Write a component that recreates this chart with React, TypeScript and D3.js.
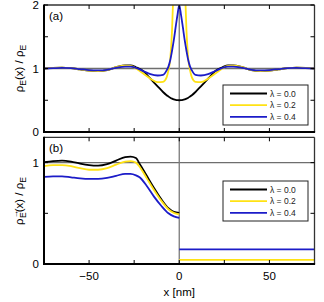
import * as React from "react";
import * as d3 from "d3";

// panel (a): rho_E(x) / rho_E
const xA = [-75, -70, -65, -60, -55, -50, -45, -40, -35, -30, -27, -24, -20, -16, -12, -9, -7, -6, -5, -4, -3, -2, -1, 0,
  1, 2, 3, 4, 5, 6, 7, 9, 12, 16, 20, 24, 27, 30, 35, 40, 45, 50, 55, 60, 65, 70, 75];
const blackA = [1.0, 1.01, 1.015, 1.005, 0.985, 0.965, 0.96, 0.975, 1.02, 1.05, 1.05, 1.02, 0.96, 0.84, 0.72, 0.63, 0.58, 0.56, 0.54, 0.525, 0.513, 0.505, 0.501, 0.5,
  0.501, 0.505, 0.513, 0.525, 0.54, 0.56, 0.58, 0.63, 0.72, 0.84, 0.96, 1.02, 1.05, 1.05, 1.02, 0.975, 0.96, 0.965, 0.985, 1.005, 1.015, 1.01, 1.0];
const yellowA = [1.0, 1.01, 1.015, 1.005, 0.985, 0.965, 0.96, 0.975, 1.02, 1.045, 1.04, 1.0, 0.92, 0.84, 0.785, 0.79, 0.86, 0.97, 1.15, 1.6, 2.4, 2.8, 3.0, 3.0,
  3.0, 2.8, 2.4, 1.6, 1.15, 0.97, 0.86, 0.79, 0.785, 0.84, 0.92, 1.0, 1.04, 1.045, 1.02, 0.975, 0.96, 0.965, 0.985, 1.005, 1.015, 1.01, 1.0];
const blueA = [1.0, 1.005, 1.01, 1.005, 0.99, 0.975, 0.97, 0.98, 1.01, 1.03, 1.03, 1.01, 0.96, 0.91, 0.89, 0.9, 0.97, 1.03, 1.13, 1.28, 1.45, 1.65, 1.84, 2.0,
  1.84, 1.65, 1.45, 1.28, 1.13, 1.03, 0.97, 0.9, 0.89, 0.91, 0.96, 1.01, 1.03, 1.03, 1.01, 0.98, 0.97, 0.975, 0.99, 1.005, 1.01, 1.005, 1.0];

// panel (b): left half (x <= 0) and right half constants
const xB = [-75, -70, -65, -60, -55, -50, -45, -40, -35, -30, -27, -24, -22, -18, -14, -10, -6, -3, 0];
const blackB = [1.005, 1.015, 1.02, 1.01, 0.99, 0.975, 0.97, 0.985, 1.02, 1.055, 1.06, 1.045, 0.99, 0.87, 0.75, 0.64, 0.55, 0.515, 0.505];
const yellowB = [0.965, 0.975, 0.975, 0.965, 0.945, 0.93, 0.93, 0.945, 0.98, 1.01, 1.015, 1.0, 0.96, 0.845, 0.73, 0.625, 0.54, 0.505, 0.49];
const blueB = [0.86, 0.865, 0.865, 0.855, 0.845, 0.84, 0.84, 0.85, 0.87, 0.89, 0.89, 0.875, 0.855, 0.77, 0.665, 0.575, 0.5, 0.47, 0.455];
const xBRight = [0, 75];
const rightB = [0.0, 0.04, 0.145];

const lambdas = ["λ = 0.0", "λ = 0.2", "λ = 0.4"];
const colors = ["#000000", "#ffe214", "#1c1cc8"];
const xTicks = [-50, -25, 0, 25, 50];
const xTickLabels = [-50, 0, 50];

const W = 324, H = 302;
const left = 44, right = 314.5;
const font = "Liberation Sans, Arial, Helvetica, sans-serif";

const x = d3.scaleLinear().domain([-75, 75]).range([left, right]);

function Panel({ top, bottom, ymax, yTicks, yLabels, tag, id, children, showX }: any) {
  const y = d3.scaleLinear().domain([0, ymax]).range([bottom, top]);
  return (
    <g>
      <clipPath id={id}>
        <rect x={left} y={top} width={right - left} height={bottom - top} />
      </clipPath>
      <line x1={left} x2={right} y1={y(1)} y2={y(1)} stroke="#6e6e6e" strokeWidth={1.3} />
      <line x1={x(0)} x2={x(0)} y1={top} y2={bottom} stroke="#7a7a7a" strokeWidth={1.3} />
      <g clipPath={`url(#${id})`}>{children(y)}</g>
      {/* frame */}
      <line x1={left} x2={right} y1={top} y2={top} stroke="#333" strokeWidth={1.3} />
      <line x1={right} x2={right} y1={top} y2={bottom} stroke="#333" strokeWidth={1.3} />
      <line x1={left} x2={left} y1={top - 0.6} y2={bottom + 1} stroke="#000" strokeWidth={2} />
      <line x1={left - 1} x2={right + 0.6} y1={bottom} y2={bottom} stroke="#000" strokeWidth={2} />
      {xTicks.map((t) => (
        <g key={"xt" + t}>
          <line x1={x(t)} x2={x(t)} y1={bottom} y2={bottom - 4} stroke="#000" strokeWidth={1} />
          <line x1={x(t)} x2={x(t)} y1={top} y2={top + 4} stroke="#000" strokeWidth={1} />
        </g>
      ))}
      {yTicks.map((t: number) => (
        <g key={"yt" + t}>
          <line x1={left} x2={left + 4} y1={y(t)} y2={y(t)} stroke="#000" strokeWidth={1} />
          <line x1={right} x2={right - 4} y1={y(t)} y2={y(t)} stroke="#000" strokeWidth={1} />
        </g>
      ))}
      {yLabels.map((t: number) => (
        <text key={"yl" + t} x={left - 5} y={y(t) + 4} textAnchor="end" fontSize={11.5} fontFamily={font}>
          {t}
        </text>
      ))}
      {showX &&
        xTickLabels.map((t) => (
          <text key={"xl" + t} x={x(t)} y={bottom + 16} textAnchor="middle" fontSize={11.5} fontFamily={font}>
            {t < 0 ? "\u2212" + Math.abs(t) : t}
          </text>
        ))}
      <text x={left + 5} y={top + 15} fontSize={11.5} fontFamily={font}>
        {tag}
      </text>
    </g>
  );
}

function Legend({ x0, y0 }: { x0: number; y0: number }) {
  return (
    <g>
      <rect x={x0} y={y0} width={85} height={40} fill="#fff" stroke="#222" strokeWidth={1} />
      {lambdas.map((l, i) => (
        <g key={l}>
          <line x1={x0 + 7} x2={x0 + 44} y1={y0 + 8.5 + i * 11.7} y2={y0 + 8.5 + i * 11.7} stroke={colors[i]} strokeWidth={1.8} />
          <text x={x0 + 47} y={y0 + 11.5 + i * 11.7} fontSize={8.5} fontFamily={font} fill="#222">
            {l}
          </text>
        </g>
      ))}
    </g>
  );
}

export default function App() {
  const lineGen = (xs: number[], y: any) =>
    d3.line<number>().x((_, i) => x(xs[i])).y((v) => y(v)).curve(d3.curveMonotoneX);
  const topA = 5, botA = 132, topB = 137.3, botB = 264;
  return (
    <svg width={W} height={H} style={{ position: "absolute", left: 0, top: 0, background: "#fff" }}>
      <Panel top={topA} bottom={botA} ymax={2} yTicks={[0, 0.5, 1, 1.5, 2]} yLabels={[0, 1, 2]} tag="(a)" id="clipA">
        {(y: any) =>
          [blackA, yellowA, blueA].map((s, i) => (
            <path key={i} d={lineGen(xA, y)(s) || ""} fill="none" stroke={colors[i]} strokeWidth={1.8} />
          ))
        }
      </Panel>
      <Panel top={topB} bottom={botB} ymax={1.25} yTicks={[0, 0.5, 1]} yLabels={[0, 1]} tag="(b)" id="clipB" showX>
        {(y: any) => (
          <g>
            {[blackB, yellowB, blueB].map((s, i) => (
              <path key={"l" + i} d={lineGen(xB, y)(s) || ""} fill="none" stroke={colors[i]} strokeWidth={1.8} />
            ))}
            {rightB.map((v, i) => (
              <line key={"r" + i} x1={x(xBRight[0])} x2={x(xBRight[1])} y1={y(v)} y2={y(v)} stroke={colors[i]} strokeWidth={1.8} />
            ))}
          </g>
        )}
      </Panel>
      <Legend x0={223} y0={85} />
      <Legend x0={223} y0={181} />
      <text x={x(0)} y={296} textAnchor="middle" fontSize={11.5} fontFamily={font}>
        x [nm]
      </text>
      <text transform="translate(23,68.5) rotate(-90)" textAnchor="middle" fontSize={11.5} fontFamily={font}>
        ρ<tspan fontSize={8.5} dy={3}>E</tspan>
        <tspan dy={-3}>(x) / ρ</tspan>
        <tspan fontSize={8.5} dy={3}>E</tspan>
      </text>
      <text transform="translate(23,201) rotate(-90)" textAnchor="middle" fontSize={11.5} fontFamily={font}>
        ρ<tspan fontSize={8.5} dy={-5}>→</tspan>
        <tspan fontSize={8.5} dx={-8} dy={8}>E</tspan>
        <tspan dy={-3}>(x) / ρ</tspan>
        <tspan fontSize={8.5} dy={3}>E</tspan>
      </text>
    </svg>
  );
}
